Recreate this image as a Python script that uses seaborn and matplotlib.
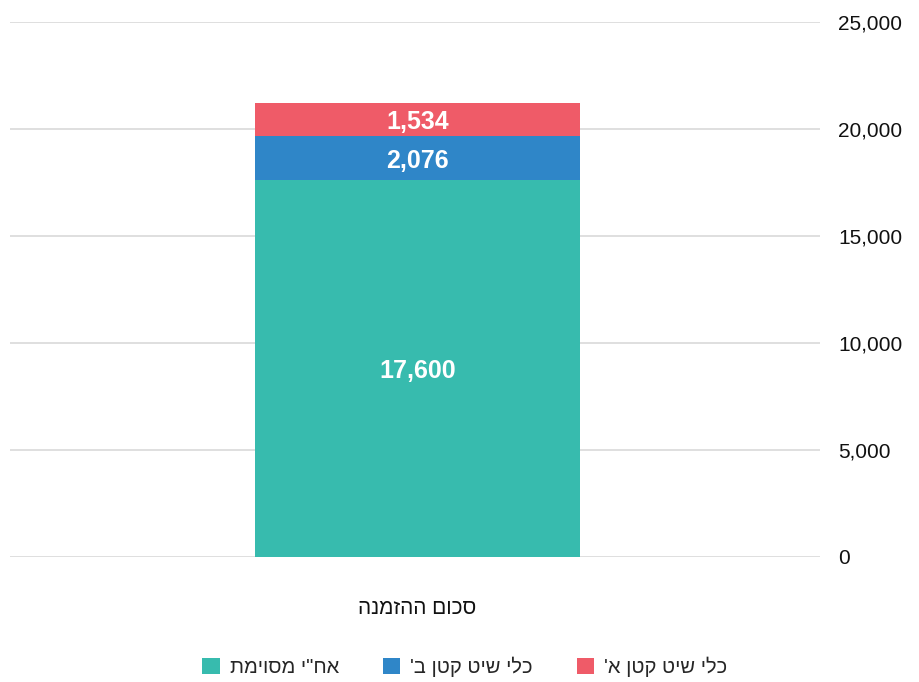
import matplotlib
matplotlib.use("Agg")
import matplotlib.pyplot as plt
import matplotlib.font_manager as fm
import seaborn as sns
import pandas as pd
from matplotlib.patches import Patch

categories = ["סכום ההזמנה"]
series_names = ["אח\"י מסוימת", "כלי שיט קטן ב'", "כלי שיט קטן א'"]
series_values = [17600, 2076, 1534]
colors = ["#37bbae", "#2f86c8", "#ef5b68"]
y_ticks = [0, 5000, 10000, 15000, 20000, 25000]

def heb(s):
    return s[::-1]

sns.set_theme(style="white")
names = {f.name for f in fm.fontManager.ttflist}
fam = "Liberation Sans Narrow" if "Liberation Sans Narrow" in names else "Liberation Sans"
plt.rcParams['font.family'] = [fam, 'DejaVu Sans']

fig = plt.figure(figsize=(9.2, 6.82), dpi=100)
ax = fig.add_axes([10/920, (682-557)/682, 810/920, 535/682])

bottom = 0
for name, val, col in zip(series_names, series_values, colors):
    df = pd.DataFrame({"cat": [heb(categories[0])], "val": [val]})
    sns.barplot(data=df, x="cat", y="val", color=col, width=0.401, bottom=bottom,
                ax=ax, saturation=1, linewidth=0)
    ax.text(0, bottom + val / 2, f"{val:,}", ha="center", va="center_baseline",
            color="white", fontsize=18, fontweight="bold")
    bottom += val

ax.set_ylim(0, 25000)
ax.set_xlim(-0.503, 0.497)
ax.set_yticks(y_ticks)
ax.set_yticklabels([f"{t:,}" for t in y_ticks], fontsize=15, color="#111111")
ax.yaxis.tick_right()
ax.tick_params(axis="y", length=0, pad=13)
ax.tick_params(axis="x", length=0, labelsize=15, pad=30, colors="#111111")
ax.grid(axis="y", color="#d9d9d9", linewidth=1.2)
ax.set_axisbelow(True)
for s in ax.spines.values():
    s.set_visible(False)
ax.set_xlabel("")
ax.set_ylabel("")

handles = [Patch(facecolor=c, edgecolor="none") for c in colors]
fig.legend(handles, [heb(n) for n in series_names], loc="center",
           bbox_to_anchor=(465/920, 1 - 667/682), ncol=3, frameon=False,
           fontsize=14.5, handlelength=0.85, handleheight=0.85, handletextpad=0.5,
           columnspacing=2.2)

fig.savefig("out.png", dpi=100)
